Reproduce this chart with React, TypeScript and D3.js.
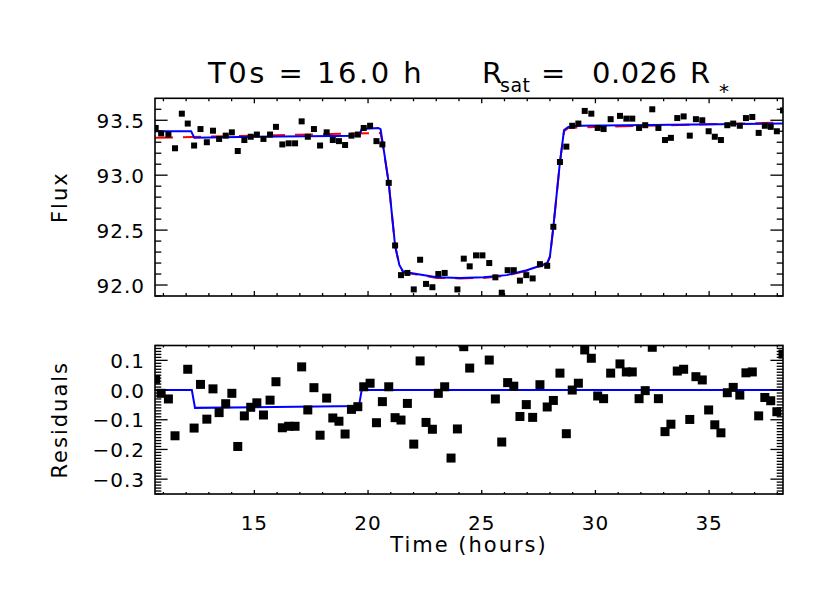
import React from "react";
import * as d3 from "d3";

// ---- data ----
const times = [
  10.66, 10.9, 11.22, 11.51, 11.81, 12.07, 12.35, 12.63, 12.91, 13.18,
  13.45, 13.74, 14.01, 14.27, 14.56, 14.84, 15.11, 15.4, 15.69, 15.95,
  16.23, 16.51, 16.79, 17.08, 17.35, 17.62, 17.89, 18.18, 18.45, 18.72,
  18.99, 19.27, 19.55, 19.81, 20.09, 20.37, 20.63, 20.91, 21.19, 21.45,
  21.73, 22.01, 22.29, 22.55, 22.83, 23.09, 23.37, 23.65, 23.93, 24.21,
  24.47, 24.75, 25.03, 25.33, 25.6, 25.88, 26.14, 26.41, 26.68, 26.96,
  27.24, 27.56, 27.88, 28.15, 28.44, 28.72, 28.98, 29.25, 29.53, 29.82,
  30.1, 30.36, 30.67, 31.08, 31.36, 31.62, 31.92, 32.19, 32.5, 32.77,
  33.06, 33.32, 33.6, 33.88, 34.15, 34.42, 34.7, 34.98, 35.25, 35.52,
  35.8, 36.06, 36.35, 36.62, 36.9, 37.18, 37.45, 37.71, 37.98, 38.25,
];

const flux = [
  93.43, 93.38, 93.37, 93.245, 93.56, 93.47, 93.27, 93.42, 93.3, 93.405,
  93.33, 93.36, 93.39, 93.22, 93.32, 93.35, 93.37, 93.33, 93.37, 93.44,
  93.28, 93.29, 93.29, 93.49, 93.35, 93.42, 93.27, 93.39, 93.32, 93.31,
  93.275, 93.36, 93.37, 93.43, 93.45, 93.31, 93.28, 92.93, 92.36, 92.09,
  92.11, 91.96, 92.23, 92.01, 91.98, 92.1, 92.11, 91.85, 91.96, 92.24,
  92.17, 92.27, 92.27, 92.2, 92.07, 91.93, 92.135, 92.135, 92.04, 92.09,
  92.06, 92.19, 92.175, 92.53, 93.12, 93.26, 93.45, 93.47, 93.585, 93.56,
  93.43, 93.42, 93.51, 93.54, 93.515, 93.515, 93.43, 93.455, 93.6, 93.43,
  93.32, 93.34, 93.52, 93.535, 93.36, 93.51, 93.5, 93.4, 93.35, 93.32,
  93.455, 93.47, 93.45, 93.52, 93.53, 93.385, 93.45, 93.44, 93.4, 93.59,
];

const residuals = [
  0.036, -0.011, -0.03, -0.154, 0.2, 0.07, -0.128, 0.019, -0.098, 0.004,
  -0.076, -0.046, -0.011, -0.19, -0.087, -0.058, -0.043, -0.084, -0.034, 0.028,
  -0.127, -0.122, -0.122, 0.078, -0.067, 0.008, -0.152, -0.027, -0.094, -0.105,
  -0.148, -0.065, -0.056, 0.011, 0.023, -0.11, -0.039, 0.011, -0.093, -0.101,
  -0.045, -0.182, 0.098, -0.109, -0.132, -0.011, 0.011, -0.229, -0.131, 0.146,
  0.074, 0.18, 0.18, 0.101, -0.03, -0.175, 0.025, 0.013, -0.089, -0.049,
  -0.092, 0.018, -0.057, -0.035, 0.057, -0.147, 0.0, 0.023, 0.135, 0.107,
  -0.02, -0.029, 0.057, 0.088, 0.061, 0.061, -0.029, -0.002, 0.144, -0.029,
  -0.14, -0.115, 0.064, 0.07, -0.099, 0.045, 0.034, -0.067, -0.117, -0.144,
  -0.009, 0.009, -0.017, 0.058, 0.061, -0.087, -0.025, -0.036, -0.073, 0.121,
];

// planet + moon model (blue)
const moonModelT = [
  10.63, 12.22, 12.36, 15.0, 19.62, 19.72, 20.45, 20.55, 20.67, 20.91, 21.19,
  21.38, 21.55, 22.14, 23.02, 24.05, 25.07, 26.1, 26.98, 27.64, 27.88, 28.0,
  28.15, 28.44, 28.62, 28.81, 29.32, 38.25,
];
const moonModelF = [
  93.4, 93.4, 93.34, 93.35, 93.36, 93.42, 93.43, 93.42, 93.26, 92.93, 92.36,
  92.18, 92.12, 92.1, 92.07, 92.065, 92.07, 92.09, 92.135, 92.18, 92.2, 92.26,
  92.53, 93.12, 93.41, 93.44, 93.45, 93.47,
];

// planet-only model (red dashed)
const planetModelT = [
  10.63, 20.55, 20.67, 20.91, 21.19, 21.38, 21.55, 22.14, 23.02, 24.05, 25.07,
  26.1, 26.98, 27.64, 27.88, 28.0, 28.15, 28.44, 28.62, 28.81, 29.32, 38.25,
];
const planetModelF = [
  93.34, 93.385, 93.25, 92.925, 92.355, 92.175, 92.115, 92.095, 92.065, 92.06,
  92.065, 92.085, 92.13, 92.175, 92.195, 92.255, 92.525, 93.115, 93.4, 93.43,
  93.435, 93.48,
];

// moon signal in residual panel (blue)
const moonSignalT = [10.63, 12.25, 12.39, 19.6, 19.72, 38.25];
const moonSignalR = [0, 0, -0.06, -0.054, 0, 0];

const xTicks = [15, 20, 25, 30, 35];
const fluxTicks = [92.0, 92.5, 93.0, 93.5];
const resTicks = [-0.3, -0.2, -0.1, 0.0, 0.1];

const xDomain = [10.63, 38.25];
const fluxDomain = [91.9, 93.7];
const resDomain = [-0.35, 0.15];

// ---- layout ----
const W = 830;
const H = 593;
const L = 155;
const R = 783;
const topP = { t: 98.3, b: 296 };
const botP = { t: 345.5, b: 494 };
const FONT = "'DejaVu Sans', sans-serif";

function fmtRes(v: number) {
  const s = Math.abs(v).toFixed(1);
  return v < -1e-9 ? "\u2212" + s : s;
}

export default function App() {
  const x = d3.scaleLinear().domain(xDomain).range([L, R]);
  const yT = d3.scaleLinear().domain(fluxDomain).range([topP.b, topP.t]);
  const yB = d3.scaleLinear().domain(resDomain).range([botP.b, botP.t]);

  const xMinor = d3.range(11, 39, 1).filter((v) => v >= xDomain[0] && v <= xDomain[1]);
  const fMinor = d3.range(919, 937, 1).map((v) => v / 10);
  const rMinor = d3.range(-35, 16, 1).map((v) => v / 100);

  const lineT = d3
    .line<number>()
    .x((_, i) => x(moonModelT[i]))
    .y((d) => yT(d));
  const lineP = d3
    .line<number>()
    .x((_, i) => x(planetModelT[i]))
    .y((d) => yT(d));
  const lineS = d3
    .line<number>()
    .x((_, i) => x(moonSignalT[i]))
    .y((d) => yB(d));

  const xMajorLen = 5;
  const xMinorLen = 3;
  const yMajorLen = 12.6;
  const yMinorLen = 6.3;

  const panelAxes = (
    p: { t: number; b: number },
    y: d3.ScaleLinear<number, number>,
    yMaj: number[],
    yMin: number[],
    xMajL: number,
    xMinL: number,
    key: string
  ) => (
    <g key={key} stroke="#000" strokeWidth={1.3}>
      {xMinor.map((v) => {
        const isMaj = xTicks.includes(v);
        const len = isMaj ? xMajL : xMinL;
        return (
          <g key={"x" + v}>
            <line x1={x(v)} x2={x(v)} y1={p.b} y2={p.b - len} />
            <line x1={x(v)} x2={x(v)} y1={p.t} y2={p.t + len} />
          </g>
        );
      })}
      {yMin.map((v) => {
        const isMaj = yMaj.some((m) => Math.abs(m - v) < 1e-6);
        const len = isMaj ? yMajorLen : yMinorLen;
        const yy = y(v);
        if (yy < p.t - 0.5 || yy > p.b + 0.5) return null;
        return (
          <g key={"y" + v}>
            <line x1={L} x2={L + len} y1={yy} y2={yy} />
            <line x1={R} x2={R - len} y1={yy} y2={yy} />
          </g>
        );
      })}
      <rect x={L} y={p.t} width={R - L} height={p.b - p.t} fill="none" strokeWidth={1.6} />
    </g>
  );

  return (
    <svg
      width={W}
      height={H}
      style={{ position: "absolute", left: 0, top: 0, background: "#fff" }}
      fontFamily={FONT}
    >
      <defs>
        <clipPath id="clipTop">
          <rect x={L} y={topP.t} width={R - L} height={topP.b - topP.t} />
        </clipPath>
        <clipPath id="clipBot">
          <rect x={L} y={botP.t} width={R - L} height={botP.b - botP.t} />
        </clipPath>
      </defs>
      <rect x={0} y={0} width={W} height={H} fill="#fff" />

      {/* Title */}
      <g fill="#000">
        <text x={208} y={83} fontSize={29} letterSpacing={2.5}>
          T0s = 16.0 h
        </text>
        <text x={482} y={83} fontSize={29}>R</text>
        <text x={500} y={91.5} fontSize={19} letterSpacing={0.5}>sat</text>
        <text x={541} y={83} fontSize={29}>=</text>
        <text x={592} y={83} fontSize={29} letterSpacing={0.5}>0.026</text>
        <text x={690} y={83} fontSize={29}>R</text>
        <text x={719} y={98} fontSize={20}>*</text>
      </g>

      {/* top panel data */}
      <g clipPath="url(#clipTop)">
        <path d={lineP(planetModelF) || ""} fill="none" stroke="#ff0000" strokeWidth={2} strokeDasharray="18 10" />
        <path d={lineT(moonModelF) || ""} fill="none" stroke="#0000ff" strokeWidth={2} />
        {times.map((t, i) => (
          <rect key={i} x={x(t) - 3} y={yT(flux[i]) - 3} width={6} height={6} fill="#000" />
        ))}
      </g>

      {/* bottom panel data */}
      <g clipPath="url(#clipBot)">
        <path d={lineS(moonSignalR) || ""} fill="none" stroke="#0000ff" strokeWidth={2} />
        {times.map((t, i) => (
          <rect key={i} x={x(t) - 4.5} y={yB(residuals[i]) - 4.5} width={9} height={9} fill="#000" />
        ))}
      </g>

      {panelAxes(topP, yT, fluxTicks, fMinor, xMajorLen, xMinorLen, "axT")}
      {panelAxes(botP, yB, resTicks, rMinor, 4, 2, "axB")}

      {/* y tick labels */}
      <g fontSize={20} fill="#000" textAnchor="end" letterSpacing={1}>
        {fluxTicks.map((v) => (
          <text key={v} x={145} y={yT(v) + 7.5}>
            {v.toFixed(1)}
          </text>
        ))}
        {resTicks.map((v) => (
          <text key={v} x={145} y={yB(v) + 7.5}>
            {fmtRes(v)}
          </text>
        ))}
      </g>

      {/* x tick labels */}
      <g fontSize={20} fill="#000" textAnchor="middle" letterSpacing={1}>
        {xTicks.map((v) => (
          <text key={v} x={x(v)} y={530}>
            {v}
          </text>
        ))}
      </g>

      {/* axis titles */}
      <text x={(L + R) / 2} y={552} fontSize={21} textAnchor="middle" letterSpacing={2}>
        Time (hours)
      </text>
      <text
        transform={`translate(67,${(topP.t + topP.b) / 2}) rotate(-90)`}
        fontSize={21}
        textAnchor="middle"
        letterSpacing={2}
      >
        Flux
      </text>
      <text
        transform={`translate(67,${(botP.t + botP.b) / 2}) rotate(-90)`}
        fontSize={21}
        textAnchor="middle"
        letterSpacing={2}
      >
        Residuals
      </text>
    </svg>
  );
}
